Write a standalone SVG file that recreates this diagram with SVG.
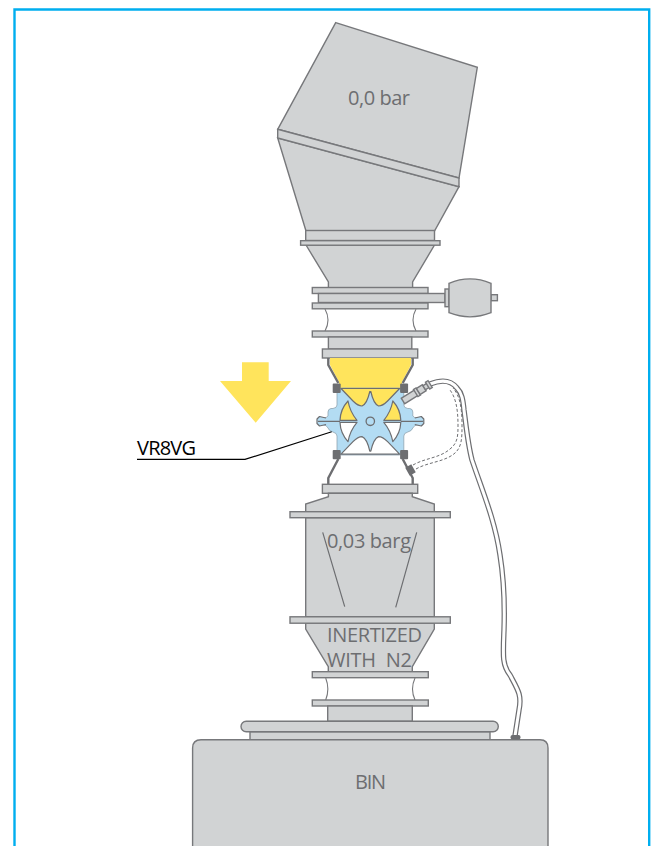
<svg xmlns="http://www.w3.org/2000/svg" width="658" height="850" viewBox="0 0 658 850">
<style>
.g{fill:#d1d3d4;stroke:#77787b;stroke-width:1.4}
.w{fill:#fff;stroke:#77787b;stroke-width:1.1}
.wall{fill:none;stroke:#6d6e71;stroke-width:2.4;stroke-linejoin:round}
.dk{fill:#6d6e71}
.y{fill:#ffe45c}
.b{fill:#b3dcf3;stroke:#8fa3b0;stroke-width:.8}
.v{stroke:#6d6e71;stroke-width:1.2}
.t{font-family:"Open Sans","Noto Sans",sans-serif;font-size:20px;fill:#6d6e71}
.dash{fill:none;stroke:#6d6e71;stroke-width:1;stroke-dasharray:3 2}
</style>
<defs>
<path id="zone" d="M341,388.5 L353,401 Q358,406 362,406 Q367,404 369.8,391.5 H370.8 Q373.6,404 378.6,406 Q382.6,406 387.6,401 L399.6,388.5 Z"/>
<path id="pocket" d="M348,401 Q350,412 357,420.3 H340 A30,30 0 0 1 348,401 Z"/>
<path id="lug" d="M326,418 L319.5,416.5 L317,419 V423.5 L319.5,426 L326,424.5"/>
</defs>
<path d="M14.5,846 V9.5 H649.2 V846" fill="none" stroke="#00aeef" stroke-width="2.4"/>

<g id="top-hopper">
<path class="g" d="M277.7,138 L306,231 H434.5 L459,186.7 Z"/>
<path class="g" d="M335.7,22.7 L477.3,67.3 L459,178 L277.7,129.3 Z"/>
<path class="g" d="M277.7,129.3 L459,178 V186.7 L277.7,138 Z"/>
<text class="t" x="379" y="105" text-anchor="middle" textLength="62">0,0 bar</text>
</g>
<g id="upper-neck">
<path class="g" d="M306,245 L328.4,282 V288 H412.6 V282 L434.5,245 Z"/>
<rect class="g" x="305.7" y="230.5" width="128.8" height="10"/>
<rect class="g" x="300.6" y="240.7" width="139.4" height="4.5"/>
<rect class="g" x="312.3" y="287.5" width="115.7" height="6"/>
<rect class="g" x="318.4" y="293.5" width="126.6" height="9"/>
<rect class="g" x="312.3" y="303" width="115.7" height="5.8"/>
<path class="w" d="M325,309 Q331,320 325,331 M416,309 Q410,320 416,331"/>
<rect class="g" x="312.3" y="331" width="115.7" height="6"/>
<rect class="g" x="328.4" y="337" width="83.4" height="12"/>
<rect class="g" x="322.4" y="349" width="95.3" height="9"/>
</g>
<g id="actuator">
<rect class="g" x="445" y="289" width="4" height="17.7"/>
<rect class="g" x="491" y="294.7" width="6.4" height="6"/>
<path class="g" d="M449,283.3 Q470,274.5 491,283.3 V312.7 Q470,321 449,312.7 Z"/>
</g>

<g id="arrow">
<path class="y" d="M242,362.3 H268.7 V381 H291 L255.7,422.7 L220,381 H242 Z"/>
</g>

<g id="valve-VR8VG">
<path class="y" d="M330,358 H411 V365 L402,382 V389 H339 V382 L330,365 Z"/>
<path class="b" d="M341,388 L337,392 V405 Q337,408 333,408.5 H331 Q328,409 328,412 V416 Q327,418 322,418.5 L318,420 V423 L322,424.5 Q327,425 328,428 Q329,431 333,432 Q337,433 337,436 V451 L341,455 H399.8 L403.8,451 V436 Q403.8,433 407.8,432 Q411.8,431 412.8,428 Q413.8,425 418.8,424.5 L422.8,423 V420 L418.8,418.5 Q413.8,418 412.8,416 V412 Q412.8,409 409.8,408.5 H407.8 Q403.8,408 403.8,405 V392 L399.8,388 Z"/>
<use href="#zone" class="y"/>
<use href="#zone" fill="#fff" transform="matrix(1 0 0 -1 0 842.6)"/>
<g stroke="#6d6e71" stroke-width="1.2" stroke-linejoin="round">
<use href="#pocket" fill="#ffe45c"/>
<use href="#pocket" fill="#ffe45c" transform="matrix(-1 0 0 1 740.8 0)"/>
<use href="#pocket" fill="#fff" transform="matrix(1 0 0 -1 0 842.6)"/>
<use href="#pocket" fill="#fff" transform="matrix(-1 0 0 -1 740.8 842.6)"/>
<use href="#zone" fill="none"/>
<use href="#zone" fill="none" transform="matrix(1 0 0 -1 0 842.6)"/>
<use href="#lug" fill="#b3dcf3"/>
<use href="#lug" fill="#b3dcf3" transform="matrix(-1 0 0 1 740.8 0)"/>
</g>
<path class="v" d="M318,421.3 H340 M400.8,421.3 H423"/>
<circle cx="370.3" cy="421.3" r="4.2" fill="#b3dcf3" stroke="#6d6e71" stroke-width="1.3"/>
<rect class="dk" x="332.7" y="383.5" width="8" height="9.5" rx="1"/>
<rect class="dk" x="400.1" y="383.5" width="8" height="9.5" rx="1"/>
<rect class="dk" x="332.7" y="450" width="8" height="9.3" rx="1"/>
<rect class="dk" x="400.1" y="450" width="8" height="9.3" rx="1"/>
<path class="wall" d="M328.3,358 V365 L338.3,383 M412.7,358 V365 L402.7,383 M338.3,459 L328.3,478 V484 M402.7,459 L412.7,478 V484"/>
</g>

<g id="lower-vessel">
<rect class="g" x="322.4" y="484.3" width="95.3" height="9"/>
<path class="g" d="M328.4,493.3 V496.7 L305.7,504 V511.7 H434.3 V504 L412.3,496.7 V493.3 Z"/>
<rect class="g" x="305.7" y="517.7" width="128.6" height="99"/>
<path class="v" fill="none" d="M322.7,532.3 L344.7,606.7 M416.7,532.3 L395.7,607.3"/>
<rect class="g" x="290" y="511.7" width="160.3" height="6"/>
<path class="g" d="M305.7,623 V629 L328.3,666.7 V672 H412.3 V666.7 L434.3,629 V623 Z"/>
<rect class="g" x="290" y="616.8" width="160.3" height="6.4"/>
<rect class="g" x="312.3" y="671.7" width="116" height="6"/>
<path class="w" d="M325.7,678 Q330,689 325.7,700 M415,678 Q410,689 415,700"/>
<rect class="g" x="312.3" y="700" width="116" height="6"/>
<rect class="g" x="327.7" y="706" width="84.6" height="15.3"/>
<text class="t" x="369" y="548" text-anchor="middle" textLength="84">0,03 barg</text>
<text class="t" x="374.5" y="642" text-anchor="middle" textLength="95">INERTIZED</text>
<text class="t" x="369.5" y="667" text-anchor="middle" textLength="85" xml:space="preserve">WITH  N2</text>
</g>

<g id="bin">
<rect class="g" x="250" y="731.7" width="240" height="8"/>
<rect class="g" x="241" y="721.3" width="257.3" height="10.4" rx="5.2"/>
<path class="g" d="M192.6,846 V748 Q192.6,739.8 201,739.8 H540 Q548,739.8 548,748 V846"/>
<text class="t" x="370.5" y="789" text-anchor="middle" textLength="31">BIN</text>
</g>

<g id="connectors">
<g id="n2-hose">
<path fill="none" stroke="#6d6e71" stroke-width="5.4" d="M430,384 C440,380 450,379 457,388 C462,393 463,400 464,410 C466,425 468,445 472,460 C482,490 495,520 500,555 C504,580 505,600 504,630 C503,655 502,665 510,675 C518,690 522,695 519,710 L515,736"/>
<path fill="none" stroke="#fff" stroke-width="3" d="M430,384 C440,380 450,379 457,388 C462,393 463,400 464,410 C466,425 468,445 472,460 C482,490 495,520 500,555 C504,580 505,600 504,630 C503,655 502,665 510,675 C518,690 522,695 519,710 L515,736"/>
<path class="dash" d="M413,465 C425,458 440,458 450,449 C458,443 458,435 458,425 C458,410 456,398 450,390"/>
<path class="dash" d="M416,469 C428,462 445,462 455,453 C462,447 462,437 462,425 C462,408 460,396 453,388"/>
<g transform="translate(403,401) rotate(-32)">
<rect class="g" x="0" y="-3.2" width="16" height="6.4"/>
<rect class="g" x="15" y="-4.2" width="3" height="8.4"/>
<rect class="g" x="18" y="-3.6" width="7" height="7.2"/>
<rect class="g" x="25" y="-2.4" width="5" height="4.8"/>
<rect class="g" x="29" y="-4" width="3" height="8"/>
</g>
<rect class="dk" x="-3.5" y="-4.5" width="7" height="9" transform="translate(410.5,470) rotate(-30)"/>
<rect class="dk" x="510.5" y="735" width="10" height="4.5" rx="2"/>
</g>
<path fill="none" stroke="#000" stroke-width="1.2" d="M137,459.4 H245 L331.7,431.7"/>
</g>
<text x="137" y="454.5" font-family="'Open Sans','Noto Sans',sans-serif" font-size="20" fill="#000" textLength="59">VR8VG</text>
</svg>
